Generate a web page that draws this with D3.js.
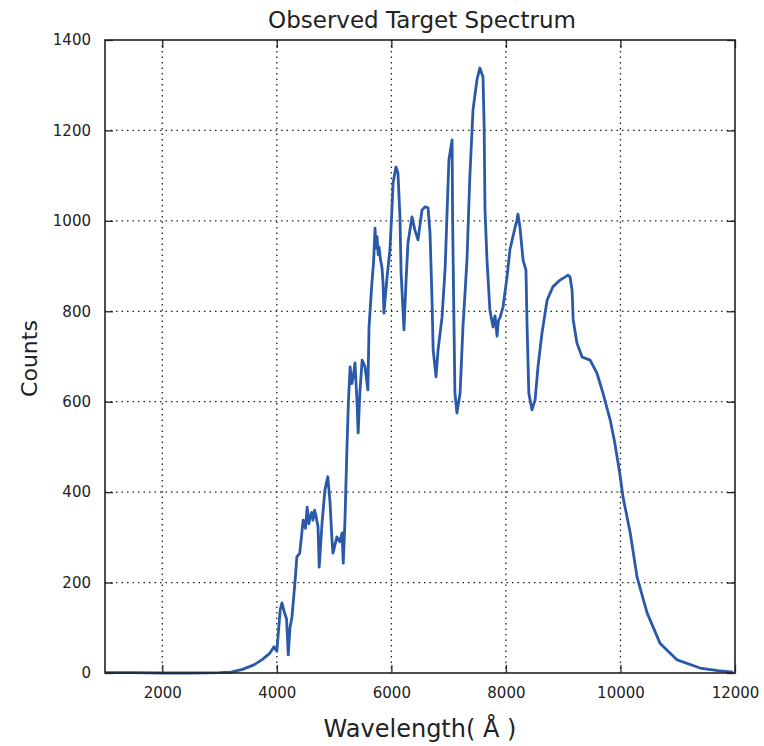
<!DOCTYPE html>
<html>
<head>
<meta charset="utf-8">
<script src="https://cdn.jsdelivr.net/npm/d3@7"></script>
<style>
  body { margin: 0; background: #fff; }
  text { font-family: "DejaVu Sans", sans-serif; fill: #222; }
</style>
</head>
<body>
<div id="chart"></div>
<script>
// wavelength (Angstrom) and counts
const wavelength = [1000,1500,2000,2500,3000,3200,3400,3600,3750,3880,3950,4000,4030,4060,4090,4130,4170,4200,4230,4265,
  4320,4350,4400,4460,4500,4530,4560,4580,4610,4630,4660,4680,4720,4740,4790,4840,4890,4930,4960,4980,5050,5100,5140,5160,
  5190,5225,5250,5280,5310,5340,5365,5400,5420,5450,5490,5540,5590,5610,5660,5690,5715,5730,5750,5770,5785,5810,5835,5855,
  5870,5925,5975,6010,6030,6080,6115,6150,6170,6200,6220,6255,6290,6360,6410,6465,6535,6590,6640,6675,
  6710,6730,6780,6815,6885,6940,6970,7005,7060,7070,7090,7110,7145,7200,7250,7320,7370,7425,7495,7545,
  7600,7620,7635,7670,7720,7775,7810,7845,7870,7900,7950,8020,8070,8160,8190,8210,8245,8300,8350,8370,8400,8455,8510,
  8560,8630,8720,8820,8945,9085,9120,9155,9175,9240,9330,9470,9590,9695,9820,9900,9990,10045,10170,10290,
  10465,10690,10990,11390,11700,11965];
const counts = [1,1,0,0,1,2,8,18,30,44,58,48,95,140,155,135,120,40,100,124,
  206,257,265,338,320,367,330,345,355,338,360,350,323,234,332,405,434,376,301,265,301,290,310,243,
  338,500,600,677,640,660,686,600,531,620,692,677,626,765,863,910,984,940,965,925,942,915,898,863,
  796,876,936,1024,1084,1119,1106,1009,885,810,759,863,951,1009,980,958,1024,1031,1029,973,
  825,714,655,714,787,898,1009,1135,1179,1000,800,619,575,619,765,913,1097,1245,1312,1338,
  1318,1208,1024,913,803,765,790,745,780,787,810,876,936,986,1000,1015,986,913,891,765,619,582,604,
  677,752,825,854,869,880,876,847,781,730,699,692,663,619,560,510,440,389,310,212,
  133,66,29,11,5,2];

const xTicks = [2000, 4000, 6000, 8000, 10000, 12000];
const yTicks = [0, 200, 400, 600, 800, 1000, 1200, 1400];

const width = 764, height = 746;
const margin = {top: 40, right: 29, bottom: 73, left: 105};
const w = width - margin.left - margin.right;
const h = height - margin.top - margin.bottom;

const svg = d3.select("#chart").append("svg")
    .attr("width", width)
    .attr("height", height);
const g = svg.append("g")
    .attr("transform", "translate(" + margin.left + "," + margin.top + ")");

const x = d3.scaleLinear().domain([1000, 12000]).range([0, w]);
const y = d3.scaleLinear().domain([0, 1400]).range([h, 0]);

// dotted grid
g.append("g").selectAll("line")
    .data(xTicks.filter(d => d < 12000))
    .enter().append("line")
    .attr("x1", d => x(d)).attr("x2", d => x(d))
    .attr("y1", 0).attr("y2", h)
    .attr("stroke", "#222").attr("stroke-width", 1.3)
    .attr("stroke-dasharray", "1.5,4");
g.append("g").selectAll("line")
    .data(yTicks.filter(d => d > 0 && d < 1400))
    .enter().append("line")
    .attr("x1", 0).attr("x2", w)
    .attr("y1", d => y(d)).attr("y2", d => y(d))
    .attr("stroke", "#222").attr("stroke-width", 1.3)
    .attr("stroke-dasharray", "1.5,4");

// spectrum
const data = wavelength.map((d, i) => ({x: d, y: counts[i]}));
g.append("path")
    .datum(data)
    .attr("fill", "none")
    .attr("stroke", "#2a59aa")
    .attr("stroke-width", 2.8)
    .attr("stroke-linejoin", "round")
    .attr("d", d3.line().x(d => x(d.x)).y(d => y(d.y)));

// axes, ticks pointing inward on all sides
function styleAxis(sel) {
    sel.select(".domain").remove();
    sel.selectAll(".tick line").attr("stroke", "#222").attr("stroke-width", 1.3);
    sel.selectAll("text").style("font-size", "15px").style("font-family", "DejaVu Sans, sans-serif");
}
g.append("g")
    .attr("transform", "translate(0," + h + ")")
    .call(d3.axisBottom(x).tickValues(xTicks).tickFormat(d3.format("d"))
        .tickSizeInner(-8).tickSizeOuter(0).tickPadding(14))
    .call(styleAxis);
g.append("g")
    .call(d3.axisLeft(y).tickValues(yTicks).tickFormat(d3.format("d"))
        .tickSizeInner(-8).tickSizeOuter(0).tickPadding(14))
    .call(styleAxis);
g.append("g")
    .call(d3.axisTop(x).tickValues(xTicks).tickSizeInner(-8).tickSizeOuter(0).tickFormat(""))
    .call(styleAxis);
g.append("g")
    .attr("transform", "translate(" + w + ",0)")
    .call(d3.axisRight(y).tickValues(yTicks).tickSizeInner(-8).tickSizeOuter(0).tickFormat(""))
    .call(styleAxis);

// frame
g.append("rect")
    .attr("width", w).attr("height", h)
    .attr("fill", "none").attr("stroke", "#222").attr("stroke-width", 1.6);

// labels
svg.append("text")
    .attr("x", margin.left + w / 2 + 2).attr("y", 28)
    .attr("text-anchor", "middle")
    .style("font-size", "23px")
    .text("Observed Target Spectrum");
svg.append("text")
    .attr("x", margin.left + w / 2).attr("y", 737)
    .attr("text-anchor", "middle")
    .style("font-size", "24px")
    .text("Wavelength( Å )");
svg.append("text")
    .attr("transform", "translate(37," + (margin.top + h / 2 + 2) + ") rotate(-90)")
    .attr("text-anchor", "middle")
    .style("font-size", "22px")
    .text("Counts");
</script>
</body>
</html>
